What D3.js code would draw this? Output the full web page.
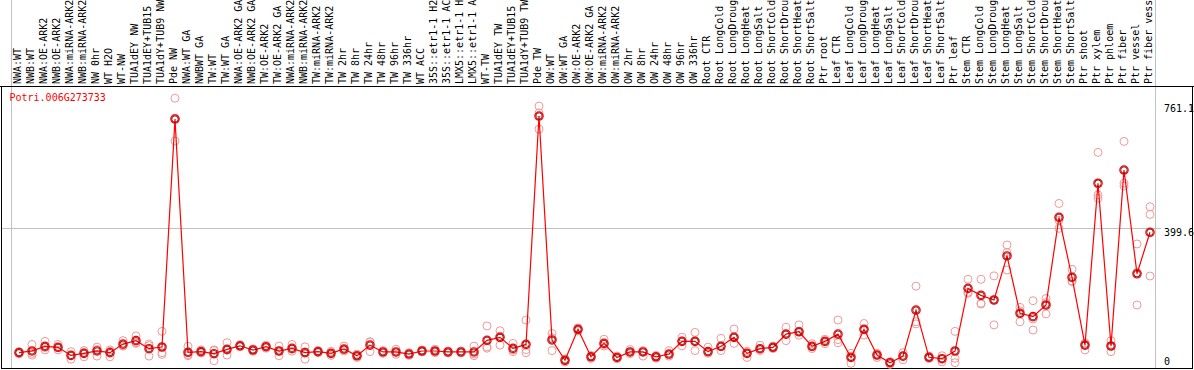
<!DOCTYPE html>
<html>
<head>
<meta charset="utf-8">
<script src="https://cdn.jsdelivr.net/npm/d3@7"></script>
<style>
  body { margin: 0; background: #fff; }
  svg text { font-family: "DejaVu Sans Mono", monospace; font-size: 10px; }
</style>
</head>
<body>
<div id="chart"></div>
<script>
const geneId = "Potri.006G273733";

const samples = [
	"NWA:WT", "NWB:WT", "NWA:OE-ARK2", "NWB:OE-ARK2", "NWA:miRNA-ARK2", "NWB:miRNA-ARK2", "NW 0hr", "WT H2O", "WT-NW", "TUA1dEY NW", "TUA1dEY+TUB15 NW", "TUA1dY+TUB9 NW", "Pde NW",
	"NWA:WT GA", "NWBWT GA", "TW:WT", "TW:WT GA", "NWA:OE-ARK2 GA", "NWB:OE-ARK2 GA", "TW:OE-ARK2", "TW:OE-ARK2 GA", "NWA:miRNA-ARK2", "NWB:miRNA-ARK2", "TW:miRNA-ARK2", "TW:miRNA-ARK2", "TW 2hr", "TW 8hr", "TW 24hr", "TW 48hr", "TW 96hr", "TW 336hr", "WT ACC", "35S::etr1-1 H2O", "35S::etr1-1 ACC", "LMX5::etr1-1 H2O", "LMX5::etr1-1 ACC", "WT-TW", "TUA1dEY TW", "TUA1dEY+TUB15 TW", "TUA1dY+TUB9 TW", "Pde TW",
	"OW:WT", "OW:WT GA", "OW:OE-ARK2", "OW:OE-ARK2 GA", "OW:miRNA-ARK2", "OW:miRNA-ARK2", "OW 2hr", "OW 8hr", "OW 24hr", "OW 48hr", "OW 96hr", "OW 336hr",
	"Root CTR", "Root LongCold", "Root LongDrought", "Root LongHeat", "Root LongSalt", "Root ShortCold", "Root ShortDrought", "Root ShortHeat", "Root ShortSalt", "Ptr root",
	"Leaf CTR", "Leaf LongCold", "Leaf LongDrought", "Leaf LongHeat", "Leaf LongSalt", "Leaf ShortCold", "Leaf ShortDrought", "Leaf ShortHeat", "Leaf ShortSalt", "Ptr leaf",
	"Stem CTR", "Stem LongCold", "Stem LongDrought", "Stem LongHeat", "Stem LongSalt", "Stem ShortCold", "Stem ShortDrought", "Stem ShortHeat", "Stem ShortSalt", "Ptr shoot", "Ptr xylem",
	"Ptr phloem", "Ptr fiber", "Ptr vessel", "Ptr fiber vessel"
];

// number of samples in each experiment block (grey separators)
const groupSizes = [13, 28, 12, 10, 10, 11, 1, 1, 1, 1];

const means = [
	36, 41, 54.5, 51.6, 28, 34, 41, 36, 61, 71, 47.6, 52.5, 717,
	37, 39, 33, 45.7, 56, 43.7, 53.4, 40.8, 48.6, 36, 38.9, 34, 46.6, 27, 58, 38, 38, 32, 40.8, 40.8, 38, 38, 38, 72, 80.7, 48.6, 60, 726,
	73, 13.6, 104, 24, 63, 22, 38, 38, 24, 32, 69, 69,
	39, 54.5, 80.7, 34, 47.6, 51.6, 90, 97, 54.5, 69,
	90, 22, 104, 29, 6.7, 26, 160, 22.4, 18.4, 40.8,
	223.5, 203, 189.5, 318, 150.7, 141, 175, 430.6, 255.7, 58, 530,
	55.4, 568.5, 266, 387
];

const replicates = [
	[33, 36, 39], [60, 34, 29], [69, 51, 44], [60, 51, 44], [39, 28, 17], [42, 36, 24], [52, 45, 26], [44, 40, 24], [71, 57, 55], [85, 63, 65], [61, 56, 26], [98, 36, 31], [778, 720, 653],
	[54.5, 30, 27], [44, 38, 35], [44, 42, 12.5], [65, 43, 29], [59, 56, 53], [47, 44, 40], [58, 53, 49], [55, 41, 27], [60, 46, 40], [53, 38, 17], [42, 39, 36], [40, 34, 28], [55, 44, 41], [32, 27, 22], [68, 67, 39], [42, 38, 34], [46, 37, 31], [36, 32, 28], [44, 41, 38], [46, 40, 36], [41, 38, 35], [41, 38, 35], [55, 32, 27], [114, 53, 49], [100, 84, 58], [63, 44, 39], [131, 45, 36], [755, 735, 688],
	[92, 79, 42], [18, 14, 9], [108, 104, 99], [28, 24, 19], [75, 60, 55], [26, 22, 18], [45, 38, 33], [42, 38, 26], [28, 24, 20], [42, 30, 26], [81, 70, 56], [95, 70, 42],
	[52, 39, 34], [78, 54, 42], [105, 82, 63], [40, 34, 22], [58, 47, 42], [55, 52, 48], [110, 90, 71], [117, 97, 87], [62, 54, 48], [75, 69, 62],
	[131, 74, 65], [34, 26, 5], [121, 104, 87], [34, 29, 22], [10, 6.7, 2], [36, 26, 15], [230, 126, 120], [26, 22, 19], [27, 18, 9], [98, 19.5, 6.7],
	[250, 212, 209], [250, 180, 178], [260, 190, 117], [350, 328, 277], [168, 158, 126], [187.5, 134, 102], [194, 182, 149], [471, 422, 398.5], [279, 245, 243], [64, 58, 44], [620, 496, 486],
	[71, 56, 39], [652, 530, 522], [353, 270, 175], [461.5, 439, 259.5]
];

const tickValues = [0, 399.6, 761.1];

const width = 1194,
			height = 370;

const svg = d3.select("#chart")
	.append("svg")
		.attr("width", width)
		.attr("height", height);

const x = d3.scaleBand()
		.domain(d3.range(samples.length))
		.range([11, 1155]);

const y = d3.scaleLinear()
		.domain([0, 761.1])
		.range([365, 104]);

const cx = i => x(i) + 8;

// block separators
const bounds = [0].concat(d3.cumsum(groupSizes));
svg.append("g")
	.selectAll("line")
	.data(bounds)
	.enter()
	.append("line")
		.attr("x1", d => (d < samples.length ? x(d) : x.range()[1]) + 0.5)
		.attr("x2", d => (d < samples.length ? x(d) : x.range()[1]) + 0.5)
		.attr("y1", 0)
		.attr("y2", 369)
		.attr("stroke", "#c0c0c0");

// middle reference line
svg.append("line")
		.attr("x1", 1)
		.attr("x2", 1161)
		.attr("y1", Math.round(y(399.6)) + 0.5)
		.attr("y2", Math.round(y(399.6)) + 0.5)
		.attr("stroke", "#c0c0c0");

// frame
svg.append("line")
		.attr("x1", 0).attr("x2", width)
		.attr("y1", 86.5).attr("y2", 86.5)
		.attr("stroke", "#000");
svg.append("rect")
		.attr("x", 1.5)
		.attr("y", 86.5)
		.attr("width", 1191)
		.attr("height", 282)
		.attr("fill", "none")
		.attr("stroke", "#000");

// sample names
svg.append("g")
	.selectAll("text")
	.data(samples)
	.enter()
	.append("text")
		.attr("transform", (d, i) => `translate(${cx(i) - 1.5}, 84) rotate(-90)`)
		.attr("dy", "0.35em")
		.attr("fill", "#000")
		.text(d => d);

// gene name
svg.append("text")
		.attr("x", 9.5)
		.attr("y", 101)
		.attr("fill", "#ff0000")
		.text(geneId);

// value axis on the right
const yAxis = svg.append("g")
		.attr("transform", "translate(1164, 0)")
		.call(d3.axisRight(y).tickValues(tickValues).tickSize(0).tickPadding(0).tickFormat(d => d === 0 ? "0" : d3.format(".1f")(d)));
yAxis.select(".domain").remove();
yAxis.selectAll("text")
		.attr("font-family", "DejaVu Sans Mono, monospace")
		.attr("font-size", 10)
		.attr("fill", "#000")
		.attr("dy", d => d === 0 ? "-0.1em" : "0.75em");

// replicate points
const reps = [];
replicates.forEach((r, i) => r.forEach(v => reps.push({i: i, v: v})));
svg.append("g")
	.selectAll("circle")
	.data(reps)
	.enter()
	.append("circle")
		.attr("cx", d => cx(d.i))
		.attr("cy", d => y(d.v))
		.attr("r", 4)
		.attr("fill", "none")
		.attr("stroke", "#f09a9a");

// mean line
svg.append("path")
		.datum(means)
		.attr("fill", "none")
		.attr("stroke", "#ff0000")
		.attr("stroke-width", 1.2)
		.attr("d", d3.line()
				.x((d, i) => cx(i))
				.y(d => y(d)));

// mean points: red ring with a dark inner ring
const meanDots = svg.append("g")
	.selectAll("g")
	.data(means)
	.enter()
	.append("g")
		.attr("transform", (d, i) => `translate(${cx(i)}, ${y(d)})`);

meanDots.append("circle")
		.attr("r", 4.2)
		.attr("fill", "none")
		.attr("stroke", "#ff0000")
		.attr("stroke-width", 1.2);

meanDots.append("circle")
		.attr("r", 3.2)
		.attr("fill", "none")
		.attr("stroke", "#600000")
		.attr("stroke-width", 0.8);
</script>
</body>
</html>
